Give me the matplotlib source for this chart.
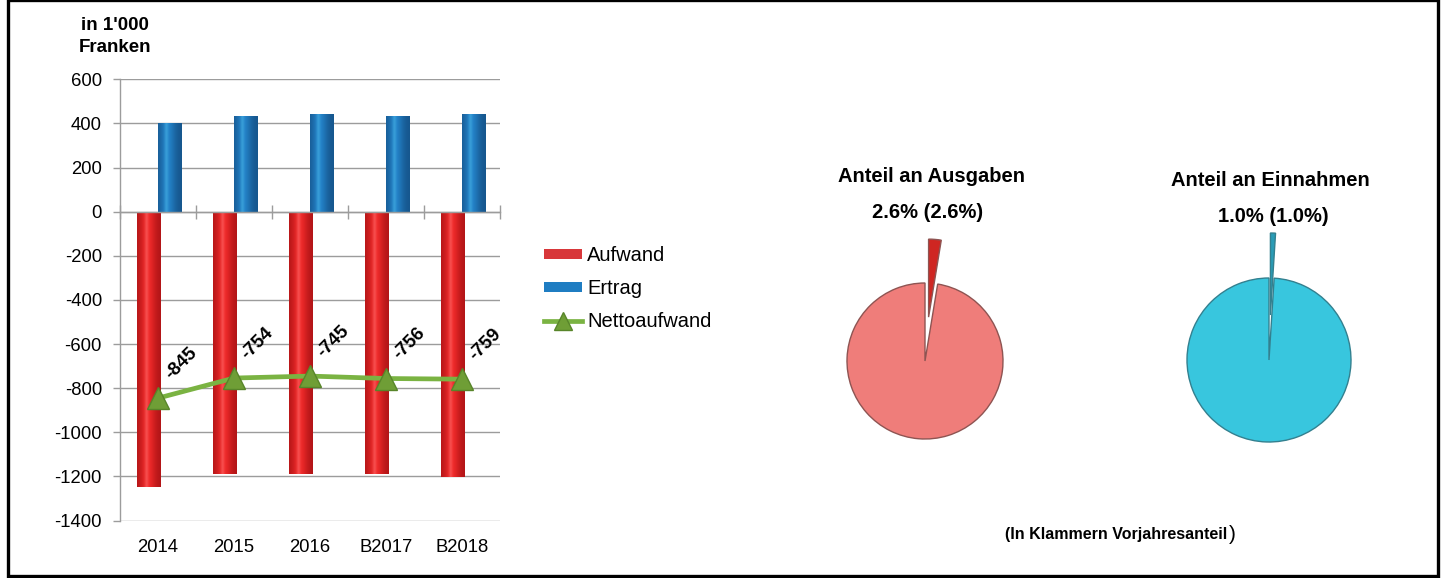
import numpy as np
import matplotlib
matplotlib.use("Agg")
import matplotlib.pyplot as plt
from matplotlib.patches import Rectangle, Patch
from matplotlib.lines import Line2D

plt.rcParams['font.family'] = ['Liberation Sans', 'DejaVu Sans']

# ---- data -------------------------------------------------------------
years = ["2014", "2015", "2016", "B2017", "B2018"]
aufwand = [-1248, -1189, -1189, -1191, -1203]
ertrag = [403, 435, 444, 435, 444]
netto = [-845, -754, -745, -756, -759]

yticks = [600, 400, 200, 0, -200, -400, -600, -800, -1000, -1200, -1400]

anteil_ausgaben = [2.6, 97.4]
anteil_einnahmen = [1.0, 99.0]
label_ausgaben = "2.6% (2.6%)"
label_einnahmen = "1.0% (1.0%)"

W, H = 1451, 578
fig = plt.figure(figsize=(W / 100, H / 100), dpi=100)


def fx(px):
    return px / W


def fy(py):
    return 1 - py / H


# ---- bar / line chart -------------------------------------------------
ax = fig.add_axes([fx(120), fy(520.6), fx(500) - fx(120), fy(79.3) - fy(520.6)])
x = np.arange(len(years))
bw = 0.31

grid_c = "#9c9c9c"
ax.set_ylim(-1400, 600)
ax.set_xlim(-0.5, len(years) - 0.5)
ax.set_yticks(yticks)
ax.set_yticklabels([str(v) for v in yticks])
ax.yaxis.grid(True, color=grid_c, lw=1.0, zorder=0)
ax.set_axisbelow(True)
ax.tick_params(axis='y', length=5, width=1.0, color=grid_c, pad=8, labelsize=13.3)
for s in ("top", "right"):
    ax.spines[s].set_visible(False)
ax.spines["left"].set_color(grid_c)
ax.spines["left"].set_linewidth(1.0)
# category axis crosses at zero, tick marks between categories
ax.spines["bottom"].set_position(("data", 0))
ax.spines["bottom"].set_color(grid_c)
ax.spines["bottom"].set_linewidth(1.0)
ax.set_xticks(np.arange(len(years) + 1) - 0.5)
ax.set_xticklabels([])
ax.tick_params(axis='x', direction='inout', length=10, width=1.0, color=grid_c)

sec = ax.secondary_xaxis('bottom')
sec.set_xticks(x)
sec.set_xticklabels(years)
sec.tick_params(length=0, pad=13, labelsize=13.3)
sec.spines["bottom"].set_visible(False)

red_bars = ax.bar(x - 0.12, aufwand, bw, color="#e02828", zorder=2)
blue_bars = ax.bar(x + 0.155, ertrag, bw, color="#1f7dc2", zorder=2)


def shade(bars, edge, mid, hi, peak):
    t = np.linspace(0, 1, 80)
    prof = np.exp(-((t - peak) / 0.33) ** 2)
    e = np.array(edge) / 255
    m = np.array(mid) / 255
    h = np.array(hi) / 255
    cols = e + (m - e) * prof[:, None]
    hl = np.exp(-((t - peak + 0.05) / 0.08) ** 2)
    cols = cols + (h - cols) * (0.45 * hl)[:, None]
    img = np.clip(cols, 0, 1)[None, :, :]
    for b in bars:
        x0, y0 = b.get_x(), b.get_y()
        w, hgt = b.get_width(), b.get_height()
        im = ax.imshow(img, extent=(x0, x0 + w, min(y0, y0 + hgt), max(y0, y0 + hgt)),
                       aspect='auto', interpolation='bilinear', zorder=2.1)
        im.set_clip_path(b)


shade(red_bars, (175, 20, 22), (240, 42, 42), (255, 120, 120), 0.45)
shade(blue_bars, (22, 85, 140), (35, 130, 200), (80, 190, 235), 0.40)
ax.set_aspect('auto')
ax.set_xlim(-0.5, len(years) - 0.5)
ax.set_ylim(-1400, 600)

ax.plot(x, netto, color="#7ab342", lw=3.4, zorder=4, solid_capstyle='round')
ax.plot(x, netto, ls='none', marker='^', ms=16.5, mfc="#6f9e36", mec="#58852a",
        mew=1.0, zorder=5)

for xi, v in zip(x, netto):
    ax.annotate(str(v), (xi, v), xytext=(17, 25), textcoords='offset points',
                ha='center', va='center', rotation=45, rotation_mode='anchor',
                fontsize=13.5, fontweight='bold', zorder=6)

fig.text(fx(115), fy(25), "in 1'000", ha='center', va='center',
         fontsize=13.5, fontweight='bold')
fig.text(fx(115), fy(48), "Franken", ha='center', va='center',
         fontsize=13.5, fontweight='bold')

handles = [
    Patch(facecolor="#d8373a", edgecolor="none"),
    Patch(facecolor="#1f7dc2", edgecolor="none"),
    Line2D([], [], color="#7ab342", lw=3.4, marker='^', ms=13, mfc="#6f9e36",
           mec="#58852a"),
]
fig.legend(handles, ["Aufwand", "Ertrag", "Nettoaufwand"], loc='upper left',
           bbox_to_anchor=(fx(544), fy(246)), frameon=False, fontsize=14.5,
           handlelength=1.9, handleheight=0.4, handletextpad=0.25,
           labelspacing=0.7, borderpad=0, borderaxespad=0)

# ---- pies -------------------------------------------------------------


def pie_axes(cx, cy, size=300):
    return fig.add_axes([fx(cx - size / 2), fy(cy + size / 2), fx(size), size / H])


pa = pie_axes(925, 361)
pa.pie(anteil_ausgaben, colors=["#cf2622", "#ef7d7a"], startangle=90,
       counterclock=False, radius=0.78, explode=[0.44, 0],
       wedgeprops=dict(edgecolor="#8e5452", linewidth=1.0))
pa.set_xlim(-1.5, 1.5)
pa.set_ylim(-1.5, 1.5)
pa.set_axis_off()

pb = pie_axes(1269, 360)
pb.pie(anteil_einnahmen, colors=["#2a9cb6", "#38c6de"], startangle=90,
       counterclock=False, radius=0.82, explode=[0.45, 0],
       wedgeprops=dict(edgecolor="#33808f", linewidth=1.0))
pb.set_xlim(-1.5, 1.5)
pb.set_ylim(-1.5, 1.5)
pb.set_axis_off()

fig.text(fx(932), fy(177), "Anteil an Ausgaben", ha='center', va='center',
         fontsize=14.5, fontweight='bold')
fig.text(fx(928), fy(213), label_ausgaben, ha='center', va='center',
         fontsize=14.5, fontweight='bold')
fig.text(fx(1270), fy(180), "Anteil an Einnahmen", ha='center', va='center',
         fontsize=14.5, fontweight='bold')
fig.text(fx(1273), fy(216), label_einnahmen, ha='center', va='center',
         fontsize=14.5, fontweight='bold')

note = fig.text(fx(1005), fy(535), "(In Klammern Vorjahresanteil", ha='left',
                va='center', fontsize=11.5, fontweight='bold')
plt.annotate(")", xy=(1, 0.5), xycoords=note, xytext=(1, 0),
             textcoords='offset points', ha='left', va='center',
             fontsize=15, annotation_clip=False)

# ---- outer frame ------------------------------------------------------
fig.patches.append(Rectangle((fx(7.5), 2 / H), fx(1437.5) - fx(7.5), 1 - 2 / H,
                             transform=fig.transFigure, fill=False,
                             edgecolor='black', linewidth=2.4))

fig.savefig("out.png", dpi=100, facecolor='white')
